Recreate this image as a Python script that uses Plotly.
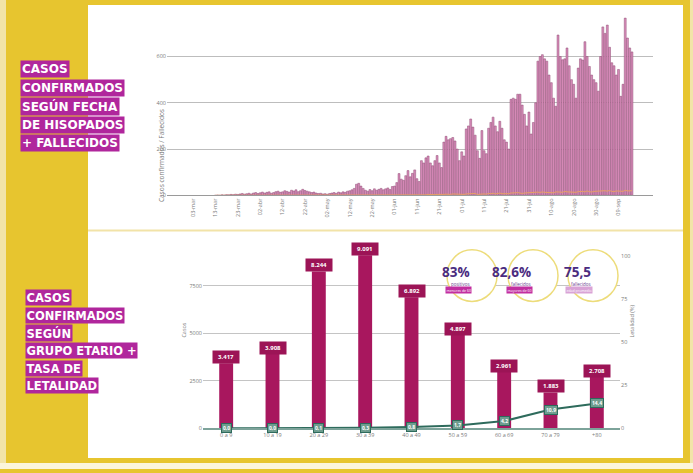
import plotly.graph_objects as go
import pandas as pd

W, H = 693, 473
def px(x): return x / W
def py(y): return 1 - y / H

AMARILLO = "#E7C52F"
MAGENTA = "#B0269C"
BORDO = "#A8175E"
VERDE = "#2E6B5C"
GRIS = "#7a7a7a"
FUENTE = "Open Sans"

# ---------------- Datos: casos diarios (gráfico superior) ----------------
fecha_inicio = "2020-03-13"
casos_diarios = [
    0, 1, 0, 2, 1, 3, 2, 4, 3, 5,
    4, 6, 8, 5, 7, 9, 6, 10, 12, 8,
    11, 14, 10, 13, 15, 9, 12, 16, 18, 13,
    15, 20, 17, 14, 22, 19, 24, 16, 20, 26,
    21, 18, 15, 12, 14, 10, 8, 9, 6, 7,
    5, 8, 10, 12, 9, 14, 11, 15, 13, 18,
    20, 24, 30, 48, 52, 40, 30, 22, 18, 25,
    20, 28, 22, 26, 30, 24, 28, 32, 25, 38,
    40, 55, 94, 70, 65, 85, 107, 80, 95, 110,
    72, 60, 150, 140, 162, 170, 140, 128, 150, 172,
    140, 120, 230, 255, 240, 245, 250, 235, 200, 150,
    188, 170, 287, 300, 330, 295, 260, 193, 160, 280,
    193, 180, 290, 315, 338, 300, 275, 320, 290, 240,
    230, 200, 415, 420, 415, 437, 437, 390, 350, 300,
    360, 265, 315, 400, 580, 600, 608, 590, 580, 520,
    487, 420, 385, 693, 600, 586, 590, 637, 560, 500,
    480, 420, 550, 590, 585, 664, 600, 557, 520, 500,
    487, 450, 600, 728, 700, 736, 640, 573, 560, 520,
    544, 428, 480, 766, 680, 637, 620,
]
fallecidos_diarios = [
    0, 0, 0, 0, 0, 0, 0, 0, 0, 0,
    0, 0, 1, 0, 0, 0, 1, 0, 0, 0,
    0, 1, 0, 0, 0, 1, 0, 0, 1, 0,
    0, 0, 1, 0, 0, 0, 0, 1, 0, 0,
    0, 0, 0, 0, 1, 0, 0, 0, 0, 0,
    0, 0, 0, 1, 0, 0, 0, 0, 0, 1,
    0, 0, 1, 0, 0, 1, 0, 0, 0, 0,
    0, 1, 0, 0, 1, 0, 0, 1, 0, 1,
    1, 0, 1, 2, 1, 0, 2, 1, 1, 2,
    2, 1, 3, 2, 2, 4, 3, 2, 3, 4,
    3, 2, 4, 5, 3, 4, 6, 5, 4, 3,
    5, 4, 6, 7, 5, 6, 8, 4, 5, 7,
    6, 5, 8, 7, 9, 6, 8, 10, 7, 6,
    8, 7, 10, 9, 11, 12, 9, 8, 10, 11,
    12, 10, 11, 13, 14, 12, 15, 13, 12, 14,
    13, 11, 15, 16, 14, 13, 17, 15, 14, 16,
    15, 13, 16, 18, 17, 15, 19, 16, 14, 17,
    18, 16, 17, 19, 20, 18, 21, 17, 16, 19,
    20, 18, 17, 22, 19, 21, 20,
]
ticks_fechas = ["2020-03-03", "2020-03-13", "2020-03-23", "2020-04-02", "2020-04-12",
                "2020-04-22", "2020-05-02", "2020-05-12", "2020-05-22", "2020-06-01",
                "2020-06-11", "2020-06-21", "2020-07-01", "2020-07-11", "2020-07-21",
                "2020-07-31", "2020-08-10", "2020-08-20", "2020-08-30", "2020-09-09"]
ticks_textos = ["03-mar", "13-mar", "23-mar", "02-abr", "12-abr", "22-abr", "02-may",
                "12-may", "22-may", "01-jun", "11-jun", "21-jun", "01-jul", "11-jul",
                "21-jul", "31-jul", "10-ago", "20-ago", "30-ago", "09-sep"]
ticks_y_sup = [0, 200, 400, 600]

# ---------------- Datos: grupo etario (gráfico inferior) ----------------
grupos = ["0 a 9", "10 a 19", "20 a 29", "30 a 39", "40 a 49", "50 a 59", "60 a 69", "70 a 79", "+80"]
casos_grupo = [3417, 3908, 8244, 9091, 6892, 4897, 2961, 1883, 2708]
casos_grupo_txt = ["3.417", "3.908", "8.244", "9.091", "6.892", "4.897", "2.961", "1.883", "2.708"]
letalidad = [0.0, 0.0, 0.1, 0.3, 0.8, 1.7, 4.2, 10.9, 14.4]
letalidad_txt = ["0,0", "0,0", "0,1", "0,3", "0,8", "1,7", "4,2", "10,9", "14,4"]
ticks_casos = [0, 2500, 5000, 7500]
ticks_letalidad = [0, 25, 50, 75, 100]

destacados = ["83%", "82,6%", "75,5"]
destacados_sub = ["positivos", "fallecidos", "fallecidos"]
destacados_nota = ["menores de 60", "mayores de 60", "edad promedio"]
destacados_color = ["#C22FA0", "#C22FA0", "#D9A3D6"]

etiquetas_sup = ["CASOS", "CONFIRMADOS", "SEGÚN FECHA", "DE HISOPADOS", "+ FALLECIDOS"]
etiquetas_inf = ["CASOS", "CONFIRMADOS", "SEGÚN", "GRUPO ETARIO +", "TASA DE", "LETALIDAD"]

fechas = pd.date_range(fecha_inicio, periods=len(casos_diarios), freq="D")
pos_grupos = list(range(len(grupos)))

fig = go.Figure()

fig.add_trace(go.Bar(
    x=fechas, y=casos_diarios, xaxis="x", yaxis="y",
    marker=dict(color="#D98DBB", line=dict(color="#8E4A72", width=0.5)),
    showlegend=False, hoverinfo="skip",
))
fig.add_trace(go.Scatter(
    x=fechas, y=fallecidos_diarios, xaxis="x", yaxis="y", mode="lines",
    line=dict(color="#E7A064", width=1), showlegend=False, hoverinfo="skip",
))

fig.add_trace(go.Bar(
    x=pos_grupos, y=casos_grupo, xaxis="x2", yaxis="y2", width=0.3,
    marker=dict(color=BORDO, line=dict(width=0)), showlegend=False, hoverinfo="skip",
))
fig.add_trace(go.Scatter(
    x=pos_grupos, y=letalidad, xaxis="x2", yaxis="y3", mode="lines",
    line=dict(color=VERDE, width=2), showlegend=False, hoverinfo="skip",
))

t0 = pd.Timestamp(ticks_fechas[0])
rango_x = [t0 - pd.Timedelta(days=11.6), t0 + pd.Timedelta(days=205.4)]

eje_font = dict(family=FUENTE, size=5.5, color=GRIS)

fig.update_layout(
    width=W, height=H, margin=dict(l=0, r=0, t=0, b=0),
    paper_bgcolor=AMARILLO, plot_bgcolor="rgba(0,0,0,0)",
    bargap=0.15,
    xaxis=dict(domain=[px(167), px(653)], anchor="y", type="date", range=rango_x,
               tickvals=ticks_fechas, ticktext=ticks_textos, tickangle=-90,
               tickfont=eje_font, showgrid=False, showline=True, linecolor="#9a9a9a",
               linewidth=1, ticks=""),
    yaxis=dict(domain=[py(197), py(15)], anchor="x", range=[0, 780],
               tickvals=ticks_y_sup, tickfont=eje_font, showgrid=True,
               gridcolor="#bdbdbd", gridwidth=1, zeroline=False, ticks=""),
    xaxis2=dict(domain=[px(203), px(620)], anchor="y2", range=[-0.5, len(grupos) - 0.5],
                tickvals=pos_grupos, ticktext=grupos, tickangle=0,
                tickfont=eje_font, showgrid=False, showline=True, zeroline=False,
                linecolor="#7da39a", linewidth=2, ticks=""),
    yaxis2=dict(domain=[py(432), py(249.6)], anchor="x2", range=[0, 9500],
                tickvals=ticks_casos, tickfont=eje_font, showgrid=True,
                gridcolor="#c4c4c4", gridwidth=1, zeroline=False, ticks=""),
    yaxis3=dict(overlaying="y2", side="right", anchor="x2",
                range=[0, 100 * (432 - 249.6) / 174], tickvals=ticks_letalidad,
                tickfont=eje_font, showgrid=False, zeroline=False, ticks=""),
)

shapes = [
    dict(type="rect", xref="paper", yref="paper", x0=px(88), x1=px(683), y0=py(462), y1=py(5),
         fillcolor="white", line=dict(width=0), layer="below"),
    dict(type="line", xref="paper", yref="paper", x0=px(88), x1=px(683), y0=py(232.5), y1=py(232.5),
         line=dict(color="#F2E3A8", width=2), layer="below"),
    dict(type="rect", xref="paper", yref="paper", x0=0, x1=1, y0=0, y1=py(467),
         fillcolor="#FBF5DC", line=dict(width=0), layer="below"),
    dict(type="rect", xref="paper", yref="paper", x0=0, x1=px(6), y0=py(467), y1=1,
         fillcolor="#F2E4A8", line=dict(width=0), layer="below"),
    dict(type="rect", xref="paper", yref="paper", x0=px(690), x1=1, y0=py(467), y1=1,
         fillcolor="#F2E4A8", line=dict(width=0), layer="below"),
]

centros = [472, 533, 593]
for cx in centros:
    cy = 278
    shapes.append(dict(type="circle", xref="paper", yref="paper",
                       x0=px(cx - 25), x1=px(cx + 25), y0=py(cy + 26), y1=py(cy - 26),
                       fillcolor="white", line=dict(color="#EDDC7A", width=1.5), layer="above"))
fig.update_layout(shapes=shapes)

ann = []
for i, t in enumerate(etiquetas_sup):
    ann.append(dict(text=f"<b>{t}</b>", x=px(20), y=py(70 + i * 18.6), xref="paper", yref="paper",
                    xanchor="left", yanchor="middle", showarrow=False, bgcolor=MAGENTA,
                    borderpad=1, font=dict(family="DejaVu Sans", size=12, color="white")))
for i, t in enumerate(etiquetas_inf):
    ann.append(dict(text=f"<b>{t}</b>", x=px(25), y=py(300 + i * 17.8), xref="paper", yref="paper",
                    xanchor="left", yanchor="middle", showarrow=False, bgcolor=MAGENTA,
                    borderpad=0.5, font=dict(family="DejaVu Sans", size=11.5, color="white")))

ann.append(dict(text="Casos confirmados / Fallecidos", x=px(155), y=py(108), xref="paper", yref="paper",
                textangle=-90, showarrow=False, font=dict(family=FUENTE, size=6.5, color=GRIS)))
ann.append(dict(text="Casos", x=px(178), y=py(343), xref="paper", yref="paper",
                textangle=-90, showarrow=False, font=dict(family=FUENTE, size=5.5, color=GRIS)))
ann.append(dict(text="Letalidad (%)", x=px(638), y=py(343), xref="paper", yref="paper",
                textangle=-90, showarrow=False, font=dict(family=FUENTE, size=5.5, color=GRIS)))

for g, v, t in zip(pos_grupos, casos_grupo, casos_grupo_txt):
    ann.append(dict(text=f"<b>\u00a0\u00a0{t}\u00a0\u00a0</b>", x=g, y=v, xref="x2", yref="y2", yshift=6,
                    showarrow=False, bgcolor="#9C1456", borderpad=2,
                    font=dict(family=FUENTE, size=6, color="white")))
for g, v, t in zip(pos_grupos, letalidad, letalidad_txt):
    ann.append(dict(text=f"<b>{t}</b>", x=g, y=v, xref="x2", yref="y3",
                    showarrow=False, bgcolor="#6E9C8E", bordercolor=VERDE, borderwidth=1,
                    borderpad=1, font=dict(family=FUENTE, size=5, color="white")))

for cx, num, sub, nota, col in zip(centros, destacados, destacados_sub, destacados_nota, destacados_color):
    ann.append(dict(text=f"<b>{num}</b>", x=px(cx), y=py(274), xref="paper", yref="paper",
                    showarrow=False, font=dict(family=FUENTE, size=13.5, color="#4B2C7F")))
    ann.append(dict(text=sub, x=px(cx), y=py(286.5), xref="paper", yref="paper",
                    showarrow=False, font=dict(family=FUENTE, size=4.5, color="#6A3D8F")))
    ann.append(dict(text=nota, x=px(cx), y=py(292), xref="paper", yref="paper",
                    showarrow=False, bgcolor=col, borderpad=0.5,
                    font=dict(family=FUENTE, size=3.5, color="white")))

fig.update_layout(annotations=ann)
fig.write_html("out.html", config={"displayModeBar": False},
               post_script="document.body.style.margin='0px';document.body.style.overflow='hidden';")
